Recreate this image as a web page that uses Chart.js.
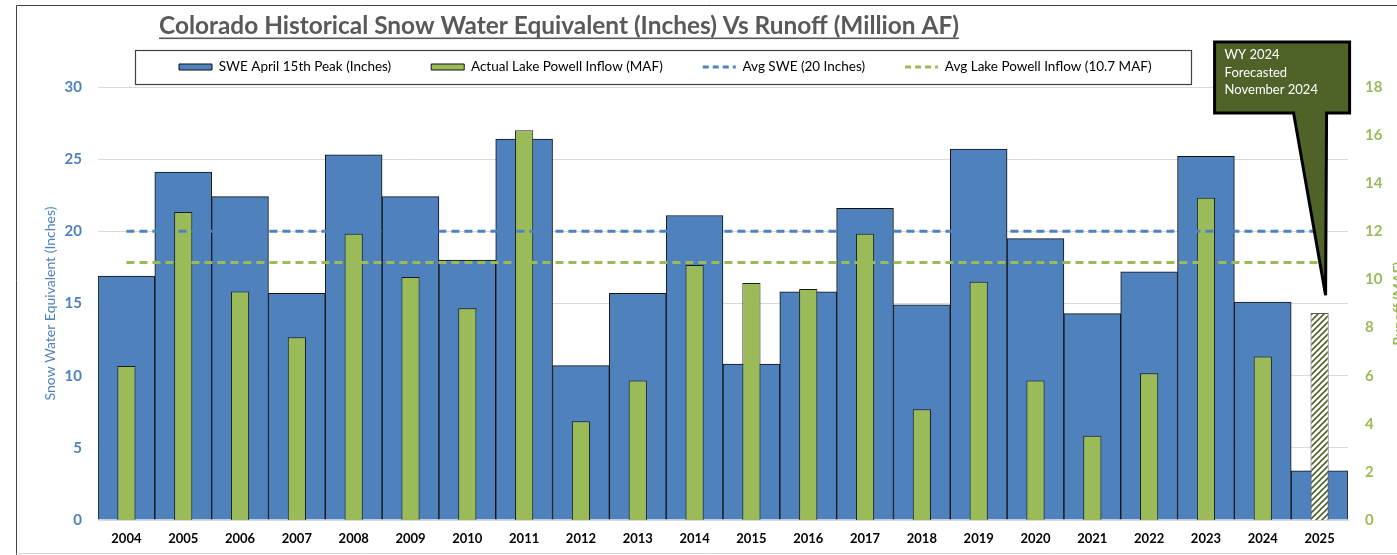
<!DOCTYPE html>
<html lang="en">
<head>
  <meta charset="UTF-8" />
  <title>Colorado Historical Snow Water Equivalent Vs Runoff</title>
  <script src="https://cdn.jsdelivr.net/npm/chart.js"></script>
  <style>
    html, body { margin: 0; padding: 0; background: #fff; }
    canvas { display: block; }
  </style>
</head>
<body>
  <canvas id="snowChart" width="1397" height="555"></canvas>

  <script>
    // chart data
    const years = ["2004", "2005", "2006", "2007", "2008", "2009", "2010", "2011", "2012", "2013", "2014",
                   "2015", "2016", "2017", "2018", "2019", "2020", "2021", "2022", "2023", "2024", "2025"];
    const swePeak = [16.9, 24.1, 22.4, 15.7, 25.3, 22.4, 18.0, 26.4, 10.7, 15.7, 21.1,
                     10.8, 15.8, 21.6, 14.9, 25.7, 19.5, 14.3, 17.2, 25.2, 15.1, 3.4];
    const powellInflow = [6.4, 12.8, 9.5, 7.6, 11.9, 10.1, 8.8, 16.2, 4.1, 5.8, 10.6,
                          9.85, 9.6, 11.9, 4.6, 9.9, 5.8, 3.5, 6.1, 13.4, 6.8, 8.6];
    const avgSwe = [20, 20, 20, 20, 20, 20, 20, 20, 20, 20, 20,
                    20, 20, 20, 20, 20, 20, 20, 20, 20, 20, 20];
    const avgInflow = [10.7, 10.7, 10.7, 10.7, 10.7, 10.7, 10.7, 10.7, 10.7, 10.7, 10.7,
                       10.7, 10.7, 10.7, 10.7, 10.7, 10.7, 10.7, 10.7, 10.7, 10.7, 10.7];
    const sweTicks = [0, 5, 10, 15, 20, 25, 30];
    const runoffTicks = [0, 2, 4, 6, 8, 10, 12, 14, 16, 18];

    const chartTitle = "Colorado Historical Snow Water Equivalent (Inches) Vs Runoff (Million AF)";
    const calloutLines = ["WY 2024", "Forecasted", "November 2024"];

    const BLUE = "#4f81bd";
    const GREEN = "#9bbb59";
    const OLIVE = "#4f6228";

    Chart.defaults.font.family = "Lato, 'Open Sans', sans-serif";

    // white with olive diagonal stripes, used for the forecast bar
    function makeHatch() {
      const c = document.createElement("canvas");
      c.width = 6; c.height = 6;
      const g = c.getContext("2d");
      g.fillStyle = "#fff";
      g.fillRect(0, 0, 6, 6);
      g.strokeStyle = OLIVE;
      g.lineWidth = 1.6;
      g.beginPath();
      g.moveTo(0, 6); g.lineTo(6, 0);
      g.moveTo(-3, 3); g.lineTo(3, -3);
      g.moveTo(3, 9); g.lineTo(9, 3);
      g.stroke();
      return g.createPattern(c, "repeat");
    }
    const hatch = makeHatch();
    const last = years.length - 1;
    const inflowFill = powellInflow.map((v, i) => i === last ? hatch : GREEN);
    const inflowBorder = powellInflow.map((v, i) => i === last ? "#595959" : "#1a1a1a");

    // frame + title
    const framePlugin = {
      id: "frame",
      beforeDraw(chart) {
        const ctx = chart.ctx;
        ctx.save();
        ctx.fillStyle = "#fff";
        ctx.fillRect(0, 0, chart.width, chart.height);
        ctx.strokeStyle = "#404040";
        ctx.lineWidth = 1;
        ctx.beginPath();
        ctx.moveTo(16.5, chart.height);
        ctx.lineTo(16.5, 5.5);
        ctx.lineTo(chart.width, 5.5);
        ctx.stroke();
        ctx.strokeStyle = "#d9d9d9";
        ctx.beginPath();
        ctx.moveTo(16.5, 553.5);
        ctx.lineTo(chart.width, 553.5);
        ctx.stroke();
        ctx.restore();
      },
      afterDraw(chart) {
        const ctx = chart.ctx;
        ctx.save();
        let size = 23;
        ctx.font = "bold " + size + "px Lato";
        size = size * 800 / ctx.measureText(chartTitle).width;
        ctx.font = "bold " + size.toFixed(2) + "px Lato";
        ctx.fillStyle = "#595959";
        ctx.textBaseline = "alphabetic";
        ctx.fillText(chartTitle, 159, 34);
        const w = ctx.measureText(chartTitle).width;
        ctx.fillRect(159, 37.5, w, 1.6);

        // right axis title (cut off at the picture edge, reads bottom to top)
        const ca = chart.chartArea;
        ctx.translate(1398, (ca.top + ca.bottom) / 2);
        ctx.rotate(-Math.PI / 2);
        ctx.font = "bold 14px Lato";
        ctx.fillStyle = GREEN;
        ctx.textAlign = "center";
        ctx.textBaseline = "middle";
        ctx.fillText("Runoff (MAF)", 0, 0);
        ctx.restore();
      }
    };

    // legend placement and the box around it
    const legendBoxPlugin = {
      id: "legendBox",
      afterLayout(chart) {
        const lg = chart.legend;
        const dx = 139 - lg.left;
        const dy = 20.25 - lg.top;
        lg.left += dx;
        lg.right += dx;
        lg.top += dy;
        lg.bottom += dy;
      },
      afterDraw(chart) {
        const hb = chart.legend.legendHitBoxes;
        if (!hb || !hb.length) return;
        const first = hb[0], end = hb[hb.length - 1];
        const ctx = chart.ctx;
        ctx.save();
        ctx.strokeStyle = "#404040";
        ctx.lineWidth = 1.2;
        const x0 = Math.round(first.left - 44) + 0.5;
        const x1 = Math.round(end.left + end.width + 39) + 0.5;
        const y0 = Math.round(first.top - 10) + 0.5;
        const y1 = Math.round(first.top + first.height + 10) + 0.5;
        ctx.strokeRect(x0, y0, x1 - x0, y1 - y0);
        ctx.restore();
      }
    };

    // speech bubble pointing at the forecast bar
    const calloutPlugin = {
      id: "callout",
      afterDraw(chart) {
        const { ctx, chartArea, scales } = chart;
        const tipX = scales.x.getPixelForValue(last) + 6;
        const tipY = scales.y2.getPixelForValue(powellInflow[last]) - 18;
        const top = chartArea.top - 45, bottom = chartArea.top + 26;
        const left = tipX - 111, right = tipX + 24;
        ctx.save();
        ctx.beginPath();
        ctx.moveTo(left, top);
        ctx.lineTo(right, top);
        ctx.lineTo(right, bottom);
        ctx.lineTo(tipX + 1, bottom);
        ctx.lineTo(tipX, tipY);
        ctx.lineTo(tipX - 32, bottom);
        ctx.lineTo(left, bottom);
        ctx.closePath();
        ctx.fillStyle = OLIVE;
        ctx.fill();
        ctx.lineWidth = 3;
        ctx.strokeStyle = "#000";
        ctx.stroke();
        ctx.fillStyle = "#fff";
        ctx.font = "13px Lato";
        ctx.textBaseline = "middle";
        calloutLines.forEach((t, i) => ctx.fillText(t, left + 10, top + 13 + i * 17.5));
        ctx.restore();
      }
    };

    const ctx = document.getElementById("snowChart").getContext("2d");
    new Chart(ctx, {
      type: "bar",
      data: {
        labels: years,
        datasets: [
          {
            type: "line",
            label: "Avg SWE (20 Inches)",
            data: avgSwe,
            yAxisID: "y",
            borderColor: BLUE,
            borderWidth: 3,
            borderDash: [8, 5],
            pointRadius: 0,
            fill: false,
            order: 0
          },
          {
            type: "line",
            label: "Avg Lake Powell Inflow (10.7 MAF)",
            data: avgInflow,
            yAxisID: "y2",
            borderColor: GREEN,
            borderWidth: 3,
            borderDash: [8, 5],
            pointRadius: 0,
            fill: false,
            order: 1
          },
          {
            label: "Actual Lake Powell Inflow (MAF)",
            data: powellInflow,
            yAxisID: "y2",
            backgroundColor: inflowFill,
            borderColor: inflowBorder,
            borderWidth: 1,
            grouped: false,
            barPercentage: 0.32,
            categoryPercentage: 1,
            order: 2
          },
          {
            label: "SWE April 15th Peak (Inches)",
            data: swePeak,
            yAxisID: "y",
            backgroundColor: BLUE,
            borderColor: "#111",
            borderWidth: 1,
            grouped: false,
            barPercentage: 1,
            categoryPercentage: 1,
            order: 3
          }
        ]
      },
      options: {
        responsive: false,
        animation: false,
        layout: { padding: { top: 23.5, left: 38, right: 0, bottom: 0 } },
        plugins: {
          tooltip: { enabled: false },
          title: { display: false },
          legend: {
            position: "top",
            align: "start",
            labels: {
              usePointStyle: true,
              pointStyleWidth: 33,
              boxHeight: 6,
              padding: 40,
              color: "#262626",
              font: { size: 13.5 },
              generateLabels() {
                return [
                  { text: "SWE April 15th Peak (Inches)", pointStyle: "rect", fillStyle: BLUE, strokeStyle: "#111", lineWidth: 1, datasetIndex: 3 },
                  { text: "Actual Lake Powell Inflow (MAF)", pointStyle: "rect", fillStyle: GREEN, strokeStyle: "#111", lineWidth: 1, datasetIndex: 2 },
                  { text: "Avg SWE (20 Inches)", pointStyle: "line", fillStyle: BLUE, strokeStyle: BLUE, lineWidth: 3, lineDash: [6, 4], datasetIndex: 0 },
                  { text: "Avg Lake Powell Inflow (10.7 MAF)", pointStyle: "line", fillStyle: GREEN, strokeStyle: GREEN, lineWidth: 3, lineDash: [6, 4], datasetIndex: 1 }
                ];
              }
            }
          }
        },
        scales: {
          x: {
            grid: { display: false },
            border: { display: true, color: "#d9d9d9", width: 1 },
            ticks: { color: "#000", font: { size: 13, weight: "bold" }, padding: 3, maxRotation: 0, autoSkip: false },
            afterFit(scale) { scale.height = 35; }
          },
          y: {
            position: "left",
            min: sweTicks[0],
            max: sweTicks[sweTicks.length - 1],
            afterBuildTicks(scale) { scale.ticks = sweTicks.map(v => ({ value: v })); },
            grid: { color: "#d9d9d9", drawTicks: false },
            border: { display: false },
            ticks: { color: BLUE, font: { size: 15, weight: "bold" }, padding: 16 },
            title: { display: true, text: "Snow Water Equivalent (Inches)", color: BLUE, font: { size: 14 } },
            afterFit(scale) { scale.width = 60; }
          },
          y2: {
            position: "right",
            min: runoffTicks[0],
            max: runoffTicks[runoffTicks.length - 1],
            afterBuildTicks(scale) { scale.ticks = runoffTicks.map(v => ({ value: v })); },
            grid: { display: false, drawTicks: false },
            border: { display: false },
            ticks: { color: GREEN, font: { size: 15, weight: "bold" }, padding: 17 },
            afterFit(scale) { scale.width = 49; }
          }
        }
      },
      plugins: [framePlugin, legendBoxPlugin, calloutPlugin]
    });
  </script>
</body>
</html>
